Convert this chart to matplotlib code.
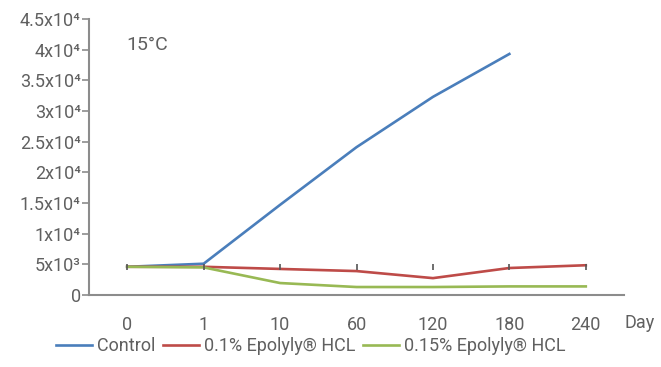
import numpy as np
import matplotlib
matplotlib.use("Agg")
import matplotlib.pyplot as plt

plt.rcParams['font.family'] = ['Roboto', 'DejaVu Sans']

# data
days = ["0", "1", "10", "60", "120", "180", "240"]
control = [4600, 5100, 14700, 24100, 32300, 39300, np.nan]
epolyly_01 = [4600, 4600, 4250, 3900, 2750, 4400, 4850]
epolyly_015 = [4600, 4500, 1950, 1300, 1300, 1400, 1400]
marker_level = [4600] * 7
yticks = [0, 5000, 10000, 15000, 20000, 25000, 30000, 35000, 40000, 45000]
ytick_labels = ["0", "5x10³", "1x10⁴", "1.5x10⁴", "2x10⁴", "2.5x10⁴",
                "3x10⁴", "3.5x10⁴", "4x10⁴", "4.5x10⁴"]

text_col = "#606060"
axis_col = "#8c8c8c"

fig = plt.figure(figsize=(6.61, 3.67), dpi=100)
ax = fig.add_axes([89/661, 1 - 295/367, 535/661, 276/367])

x = np.arange(len(days))
l1, = ax.plot(x, control, color="#4a7ebb", lw=1.9, label="Control")
l2, = ax.plot(x, epolyly_01, color="#be4b48", lw=1.9, label="0.1% Epolyly® HCL")
l3, = ax.plot(x, epolyly_015, color="#98b954", lw=1.9, label="0.15% Epolyly® HCL")
ax.plot(x, marker_level, ls="none", marker="|", ms=5, mew=1.2, color="#555555")

ax.set_xlim(-0.5, len(days) - 0.5)
ax.set_ylim(0, 45000)
ax.set_yticks(yticks)
ax.set_yticklabels(ytick_labels)
ax.set_xticks(x)
ax.set_xticklabels(days)

for s in ["top", "right"]:
    ax.spines[s].set_visible(False)
for s in ["left", "bottom"]:
    ax.spines[s].set_color(axis_col)
    ax.spines[s].set_linewidth(1.5)

ax.tick_params(axis="y", direction="out", length=5, width=1.2, color=axis_col,
               labelsize=13, labelcolor=text_col, pad=1)
ax.tick_params(axis="x", length=0, labelsize=13, labelcolor=text_col, pad=15)

ax.text(0.07, 0.905, "15°C", transform=ax.transAxes, fontsize=14,
        color=text_col, ha="left", va="center")
fig.text(640/661, 1 - 323/367, "Day", fontsize=13, color=text_col,
         ha="center", va="center")

fig.legend(handles=[l1, l2, l3], loc="center", bbox_to_anchor=(0.47, 0.057),
           ncol=3, frameon=False, fontsize=13, handlelength=2.0,
           handletextpad=0.3, columnspacing=0.4, labelcolor=text_col)

fig.savefig("out.png", dpi=100)
